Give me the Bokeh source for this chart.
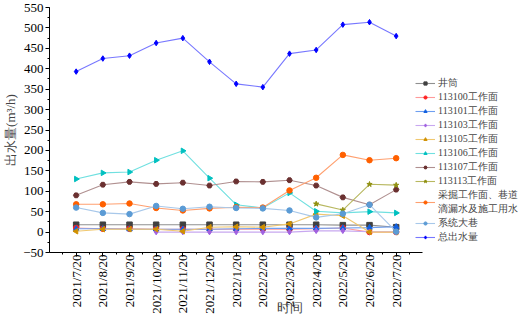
import math
from bokeh.plotting import figure
from bokeh.models import FixedTicker, SingleIntervalTicker, Range1d, Legend, LegendItem
from bokeh.embed import file_html
from bokeh.resources import INLINE

dates = ["2021/7/20", "2021/8/20", "2021/9/20", "2021/10/20", "2021/11/20", "2021/12/20",
         "2022/1/20", "2022/2/20", "2022/3/20", "2022/4/20", "2022/5/20", "2022/6/20", "2022/7/20"]

shaft = [18, 18, 18, 18, 18, 18, 18, 18, 18, 18, 17, 17, 12]
face_113100 = [10, 8, 8, 7, 7, 7, 7, 7, 7, 8, 10, 0, 0]
face_113101 = [8, 8, 7, 7, 7, 7, 8, 9, 9, 9, 10, 11, 13]
face_113103 = [None, None, None, 0, 0, 0, 0, 0, 0, 3, 3, 1, 1]
face_113105 = [2, 7, 7, 7, 2, 12, 13, 12, 20, 44, 40, 0, 0]
face_113106 = [130, 145, 147, 176, 199, 132, 67, 59, 96, 51, 47, 50, 47]
face_113107 = [90, 116, 123, 118, 121, 114, 124, 123, 127, 114, 85, 67, 104]
face_113113 = [None, None, None, None, None, None, None, None, None, 69, 54, 117, 115]
mining_drip = [68, 68, 70, 59, 53, 58, 61, 60, 102, 133, 189, 176, 181]
main_roadway = [60, 47, 44, 64, 57, 62, 59, 58, 53, 36, 45, 67, 1]
total = [393, 425, 432, 463, 475, 417, 363, 355, 437, 446, 508, 514, 480]

series = [
    ("井筒", shaft, "#909090", "#404040", "square"),
    ("113100工作面", face_113100, "#ff9a9a", "#ff2020", "circle"),
    ("113101工作面", face_113101, "#6f9ff0", "#1060e0", "triangle"),
    ("113103工作面", face_113103, "#c8a8f0", "#a060e0", "diamond"),
    ("113105工作面", face_113105, "#f0c870", "#d09000", "triangle"),
    ("113106工作面", face_113106, "#70e0e0", "#00c0c0", "triangle"),
    ("113107工作面", face_113107, "#b09090", "#6a3030", "hex"),
    ("113113工作面", face_113113, "#b8b860", "#909010", "star"),
    ("采掘工作面、巷道\n滴漏水及施工用水", mining_drip, "#ffa070", "#ff6000", "circle"),
    ("系统大巷", main_roadway, "#a8c8ea", "#5b9bd5", "circle"),
    ("总出水量", total, "#7878ff", "#0000ff", "diamond"),
]
angles = [0, 0, 0, 0, math.pi / 2, -math.pi / 2, 0, 0, 0, 0, 0]

xs = list(range(len(dates)))

p = figure(width=529, height=317, output_backend="svg", toolbar_location=None,
           x_range=Range1d(-1, 17.0), y_range=Range1d(-50, 550),
           min_border_left=49, min_border_right=0, min_border_top=7, min_border_bottom=0)
p.outline_line_color = None
p.xgrid.visible = False
p.ygrid.visible = False

items = []
for (name, vals, lc, mc, marker), ang in zip(series, angles):
    yv = [float("nan") if v is None else v for v in vals]
    r1 = p.line(xs, yv, line_color=lc, line_width=1.1)
    r2 = p.scatter(xs, yv, marker=marker, size=5.5, fill_color=mc, line_color=mc, angle=ang)
    items.append(LegendItem(label=name, renderers=[r1, r2]))

legend = Legend(items=items, location=(366, 8), padding=0, spacing=0, margin=0,
                label_text_font="Liberation Serif", label_text_font_size="10px",
                label_height=8, glyph_height=8, glyph_width=20, label_standoff=3,
                label_text_line_height=0.75, border_line_color=None,
                background_fill_alpha=0)
p.add_layout(legend)

xt = FixedTicker(ticks=xs, minor_ticks=[i + 0.5 for i in range(-1, 13)])
p.xaxis.ticker = xt
p.xaxis.bounds = (-1, 13)
p.xaxis.major_label_overrides = {i: d for i, d in enumerate(dates)}
p.xaxis.major_label_orientation = math.pi / 2
p.yaxis.ticker = SingleIntervalTicker(interval=50, num_minor_ticks=2)

for ax in (p.xaxis[0], p.yaxis[0]):
    ax.major_label_text_font = "Liberation Serif"
    ax.major_label_text_font_size = "13px"
    ax.major_label_text_color = "black"
    ax.axis_label_text_font = "Liberation Serif"
    ax.axis_label_text_font_size = "13px"
    ax.axis_label_text_font_style = "normal"
    ax.axis_line_color = "black"
    ax.major_tick_line_color = "black"
    ax.minor_tick_line_color = "black"
    ax.major_tick_out = 4
    ax.major_tick_in = 0
    ax.minor_tick_out = 2
    ax.minor_tick_in = 0
    ax.major_label_standoff = 2

p.xaxis.major_label_standoff = -2
p.xaxis.axis_label = "时间"
p.xaxis.axis_label_standoff = -17
p.xaxis.axis_label_align = "center"
p.yaxis.axis_label = "出水量(m³/h)"
p.yaxis.axis_label_standoff = 2

open("out.html", "w").write(file_html(p, INLINE))
